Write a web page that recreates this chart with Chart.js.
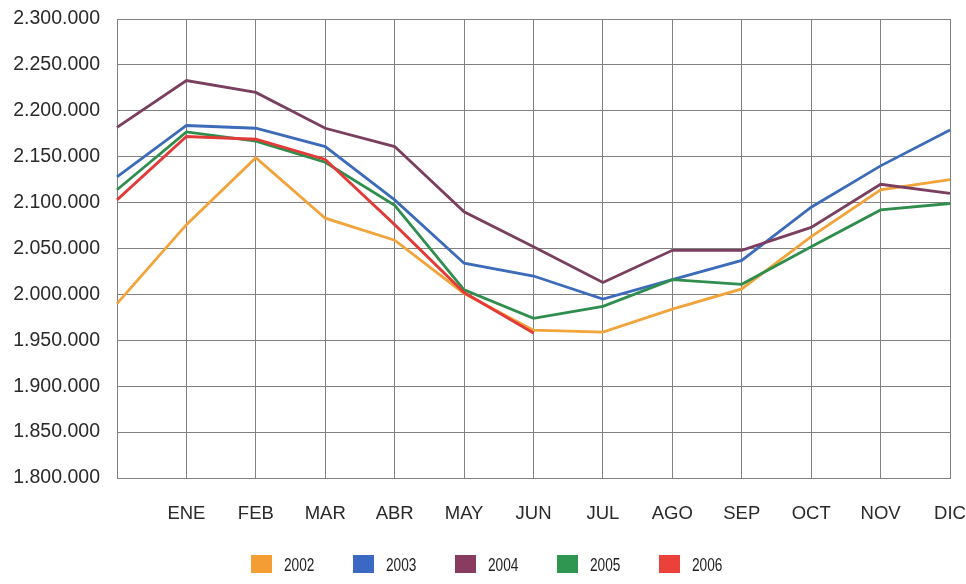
<!DOCTYPE html>
<html>
<head>
<meta charset="utf-8">
<title>Serie mensual 2002-2006</title>
<script src="https://cdn.jsdelivr.net/npm/chart.js@4/dist/chart.umd.min.js"></script>
<style>
  html, body { margin: 0; padding: 0; background: #ffffff; }
  #wrap { width: 966px; height: 584px; }
</style>
</head>
<body>
<div id="wrap"><canvas id="chart" width="966" height="584"></canvas></div>
<script>
// Month labels (first position is the unlabeled starting point on the left axis)
const months = ['', 'ENE', 'FEB', 'MAR', 'ABR', 'MAY', 'JUN', 'JUL', 'AGO', 'SEP', 'OCT', 'NOV', 'DIC'];

// Yearly series
const years = ['2002', '2003', '2004', '2005', '2006'];
const values2002 = [1990000, 2076000, 2149000, 2083000, 2059000, 2001000, 1961000, 1959000, 1984000, 2006000, 2063000, 2114000, 2125000];
const values2003 = [2128000, 2184000, 2181000, 2161000, 2103000, 2034000, 2020000, 1995000, 2016000, 2037000, 2095000, 2140000, 2179000];
const values2004 = [2182000, 2233000, 2220000, 2181000, 2161000, 2090000, 2052000, 2013000, 2048000, 2048000, 2073000, 2120000, 2110000];
const values2005 = [2114000, 2177000, 2167000, 2144000, 2097000, 2005000, 1974000, 1987000, 2016000, 2011000, 2052000, 2092000, 2099000];
const values2006 = [2103000, 2172000, 2169000, 2147000, 2076000, 2002000, 1958000, null, null, null, null, null, null];

// Y axis range
const yMin = 1800000;
const yMax = 2300000;
const yStep = 50000;

const seriesValues = [values2002, values2003, values2004, values2005, values2006];
const lineColors = ['#F2A33A', '#3C6BBA', '#7A3F5E', '#2F8E4E', '#E23A38'];
const boxColors  = ['#F49D34', '#3A68C2', '#8A3C60', '#2F9652', '#EA413B'];

const datasets = years.map((y, i) => ({
  label: y,
  data: seriesValues[i],
  borderColor: lineColors[i],
  backgroundColor: boxColors[i],
  borderWidth: 2.8,
  pointRadius: 0,
  pointHoverRadius: 0,
  tension: 0,
  spanGaps: false,
  fill: false,
  order: years.length - i   // later years painted on top
}));

function dotThousands(v) {
  return String(Math.round(v)).replace(/\B(?=(\d{3})+(?!\d))/g, '.');
}

// Legend row under the axis: colour square followed by a narrow year label
const yearLegend = {
  id: 'yearLegend',
  afterDraw(chart) {
    const ctx = chart.ctx;
    const box = { w: 21, h: 18 };
    const itemStep = 102;
    const textGap = 33;
    const rowY = 564;
    const n = chart.data.datasets.length;
    const totalW = itemStep * (n - 1) + textGap + 30;
    const startX = Math.round(chart.width / 2 - totalW / 2) + 3;
    ctx.save();
    ctx.font = "18px 'Liberation Sans', Arial, sans-serif";
    ctx.textBaseline = 'middle';
    ctx.textAlign = 'left';
    chart.data.datasets.forEach((ds, i) => {
      const x = startX + i * itemStep;
      ctx.fillStyle = ds.backgroundColor;
      ctx.fillRect(x, rowY - box.h / 2, box.w, box.h);
      ctx.save();
      ctx.translate(x + textGap, rowY + 2);
      ctx.scale(0.76, 1);
      ctx.fillStyle = '#222222';
      ctx.fillText(ds.label, 0, 0);
      ctx.restore();
    });
    ctx.restore();
  }
};

const gridColor = '#818181';

new Chart(document.getElementById('chart'), {
  type: 'line',
  data: { labels: months, datasets },
  plugins: [yearLegend],
  options: {
    responsive: false,
    animation: false,
    devicePixelRatio: 1,
    layout: { padding: { left: 0, top: 19, right: 16, bottom: 50 } },
    plugins: {
      tooltip: { enabled: false },
      title: { display: false },
      legend: { display: false }
    },
    scales: {
      x: {
        type: 'category',
        offset: false,
        grid: { display: true, color: gridColor, lineWidth: 1, drawTicks: false },
        border: { display: true, color: gridColor, width: 1 },
        ticks: {
          color: '#2a2a2a',
          font: { family: "'Liberation Sans', Arial, sans-serif", size: 18.5 },
          padding: 25,
          maxRotation: 0,
          autoSkip: false
        },
        afterFit: (scale) => {
          scale.height = 56;
          scale.paddingLeft = 0;
          scale.paddingRight = 0;
        }
      },
      y: {
        min: yMin,
        max: yMax,
        grid: { display: true, color: gridColor, lineWidth: 1, drawTicks: false },
        border: { display: true, color: gridColor, width: 1 },
        ticks: {
          stepSize: yStep,
          color: '#2a2a2a',
          font: { family: "'Liberation Sans', Arial, sans-serif", size: 19.5 },
          padding: 17,
          callback: (v) => dotThousands(v)
        },
        afterFit: (scale) => {
          scale.width = 117;
          scale.paddingTop = 0;
          scale.paddingBottom = 0;
        }
      }
    }
  }
});
</script>
</body>
</html>
